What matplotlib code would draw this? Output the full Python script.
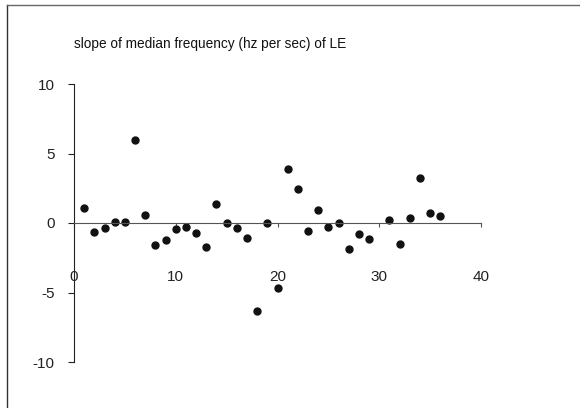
import numpy as np
import matplotlib.pyplot as plt
from matplotlib.lines import Line2D

plt.rcParams['font.family'] = ['Liberation Sans', 'DejaVu Sans']
plt.rcParams['axes.unicode_minus'] = False

# dati
soggetto = [1, 2, 3, 4, 5, 6, 7, 8, 9, 10, 11, 12, 13, 14, 15, 16, 17, 18,
            19, 20, 21, 22, 23, 24, 25, 26, 27, 28, 29, 31, 32, 33, 34, 35, 36]
pendenza = [1.1, -0.65, -0.35, 0.05, 0.05, 6.0, 0.6, -1.6, -1.2, -0.4, -0.3,
            -0.7, -1.7, 1.4, 0.0, -0.35, -1.1, -6.3, 0.0, -4.7, 3.85, 2.45,
            -0.6, 0.9, -0.27, 0.0, -1.9, -0.8, -1.15, 0.25, -1.5, 0.35, 3.25,
            0.7, 0.5]
x_ticks = [0, 10, 20, 30, 40]
y_ticks = [-10, -5, 0, 5, 10]

W, H = 580, 408
fig = plt.figure(figsize=(W / 100, H / 100), dpi=100)
ax = fig.add_axes([74 / W, 1 - 362 / H, (481 - 74) / W, (362 - 84) / H])

ax.plot(soggetto, pendenza, linestyle="none", marker="o", markersize=5,
        color="#111111")

ax.set_xlim(0, 40)
ax.set_ylim(-10, 10)

ax.spines["top"].set_visible(False)
ax.spines["right"].set_visible(False)
ax.spines["bottom"].set_position(("data", 0))
ax.spines["bottom"].set_color("#555555")
ax.spines["left"].set_color("#222222")

ax.set_xticks(x_ticks)
ax.set_yticks(y_ticks)
ax.tick_params(axis="y", direction="out", length=4, width=0.8, pad=10,
               labelsize=11, colors="#222222")
ax.tick_params(axis="x", direction="out", length=3, width=0.8, pad=31,
               labelsize=11, colors="#555555", labelcolor="#222222")

fig.text(74 / W, 1 - 44 / H, "slope of median frequency (hz per sec) of LE",
         fontsize=9.8, ha="left", va="center", color="#111111")

# cornice parziale dell'area del grafico
fig.add_artist(Line2D([7 / W, 7 / W], [0, 1 - 5 / H], color="#333333", lw=1))
fig.add_artist(Line2D([7 / W, 1], [1 - 5 / H, 1 - 5 / H], color="#666666", lw=1))

fig.savefig("out.png", dpi=100)
